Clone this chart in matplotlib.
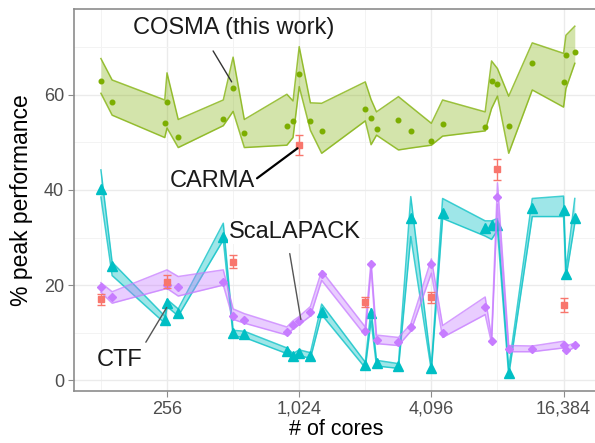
import matplotlib
matplotlib.use("Agg")
import matplotlib.pyplot as plt
from matplotlib.ticker import FixedLocator, NullFormatter

plt.rcParams['font.family'] = ['Liberation Sans', 'DejaVu Sans']

# COSMA: median % of peak with min/max band
cosma_cores = [128, 144, 250, 256, 288, 462, 512, 576, 900, 960, 1024, 1152, 1296,
               2048, 2176, 2304, 2900, 3300, 4096, 4608, 7200, 7700, 8192, 9216,
               11800, 16384, 16800, 18432]
cosma_med = [62.9, 58.5, 54.1, 58.5, 51.2, 55.0, 61.5, 52.0, 53.5, 54.5, 64.3, 54.5, 52.4,
             57.1, 55.2, 52.8, 54.7, 52.4, 50.3, 53.8, 53.2, 62.9, 62.2, 53.4,
             66.7, 62.6, 68.3, 69.0]
cosma_lo = [60.3, 55.7, 51.0, 53.0, 48.9, 53.5, 56.5, 48.9, 49.4, 51.0, 61.7, 52.5, 47.7,
            54.5, 49.5, 51.5, 48.4, 48.8, 49.4, 51.3, 52.4, 57.1, 59.7, 47.7,
            61.0, 57.4, 61.3, 66.6]
cosma_hi = [67.6, 63.1, 58.9, 64.6, 54.8, 58.9, 67.9, 54.8, 60.1, 58.7, 70.1, 58.3, 58.2,
            62.7, 59.0, 56.4, 59.6, 57.5, 54.0, 58.9, 56.4, 67.1, 65.5, 59.7,
            70.9, 68.7, 72.5, 74.4]

# ScaLAPACK
scalapack_cores = [128, 144, 256, 288, 462, 512, 576, 900, 960, 1024, 1152, 1296,
                   2048, 2176, 2304, 2900, 3300, 4096, 4608, 7200, 7700, 8192, 9216,
                   11800, 16384, 16800, 18432]
scalapack_med = [19.7, 17.4, 20.0, 19.5, 20.7, 13.6, 12.7, 10.2, 11.6, 12.5, 14.4, 22.3,
                 10.4, 24.4, 8.5, 8.1, 11.1, 24.4, 9.9, 15.5, 8.3, 38.6, 6.5,
                 6.5, 7.4, 6.4, 7.4]
scalapack_lo = [18.5, 16.2, 19.3, 17.7, 20.0, 12.8, 12.0, 9.5, 10.8, 11.7, 13.5, 21.0,
                9.4, 23.5, 7.7, 7.3, 10.3, 22.5, 9.0, 13.8, 7.8, 37.0, 6.0,
                6.0, 6.8, 5.9, 7.0]
scalapack_hi = [20.5, 18.6, 23.2, 21.8, 23.2, 15.0, 14.0, 11.2, 12.5, 13.4, 15.5, 23.0,
                11.2, 25.0, 9.5, 9.0, 11.8, 25.5, 11.5, 17.5, 9.0, 41.5, 7.3,
                7.2, 8.2, 7.2, 7.8]

# CTF
ctf_cores = [128, 144, 250, 256, 288, 462, 512, 576, 900, 960, 1024, 1152, 1296,
             2048, 2176, 2304, 2900, 3300, 4096, 4608, 7200, 7700, 8192, 9216,
             11800, 16384, 16800, 18432]
ctf_med = [40.2, 24.0, 12.7, 16.3, 14.1, 30.2, 9.9, 9.7, 6.2, 5.0, 5.8, 5.2, 14.4,
           3.2, 14.1, 3.6, 3.0, 34.2, 2.5, 35.2, 31.9, 32.6, 32.6, 1.6,
           36.1, 35.8, 22.3, 34.0]
ctf_lo = [38.5, 22.0, 12.0, 15.5, 13.5, 29.5, 9.3, 9.0, 5.6, 4.5, 5.2, 4.6, 13.8,
          2.6, 12.5, 3.0, 2.5, 30.2, 2.0, 34.0, 30.3, 29.6, 31.5, 1.0,
          34.4, 34.4, 21.5, 33.0]
ctf_hi = [44.2, 24.8, 13.5, 17.0, 15.0, 33.0, 10.5, 10.3, 6.8, 5.6, 6.4, 5.8, 16.0,
          3.8, 15.0, 4.2, 3.5, 38.6, 3.0, 38.2, 33.5, 33.5, 34.0, 2.5,
          38.2, 38.7, 23.2, 38.2]

# CARMA: mean with error bars
carma_cores = [128, 256, 512, 1024, 2048, 4096, 8192, 16384]
carma_mean = [17.0, 20.7, 24.9, 49.4, 16.5, 17.4, 44.3, 15.8]
carma_err = [1.2, 1.4, 1.4, 2.1, 1.0, 1.1, 2.2, 1.4]

GREEN, CYAN, PURPLE, RED = '#7CAE00', '#00BFC4', '#C77CFF', '#F8766D'

fig = plt.figure(figsize=(5.95, 4.43), dpi=100)
ax = fig.add_axes([0.124, 0.1174, 0.882, 0.8632])


def band(x, lo, hi, med, color, marker, ms, z, alpha=0.33):
    ax.fill_between(x, lo, hi, color=color, alpha=alpha, lw=0, zorder=z)
    ax.plot(x, lo, color=color, alpha=0.75, lw=1.1, zorder=z + 0.1)
    ax.plot(x, hi, color=color, alpha=0.75, lw=1.1, zorder=z + 0.1)
    ax.plot(x, med, ls='none', marker=marker, ms=ms, color=color, zorder=z + 0.2)


band(cosma_cores, cosma_lo, cosma_hi, cosma_med, GREEN, 'o', 3.3, 2)
band(ctf_cores, ctf_lo, ctf_hi, ctf_med, CYAN, '^', 7, 3, alpha=0.38)
band(scalapack_cores, scalapack_lo, scalapack_hi, scalapack_med, PURPLE, 'D', 4.2, 4,
     alpha=0.38)

ax.errorbar(carma_cores, carma_mean, yerr=carma_err, fmt='s', ms=5, color=RED,
            ecolor=RED, elinewidth=1, capsize=3, zorder=6)

# labels with leader segments
ax.annotate('', xy=(512, 62.2), xytext=(409, 69.7),
            arrowprops=dict(arrowstyle='-', color='#333333', lw=1), zorder=7)
ax.text(517, 74.0, 'COSMA (this work)', ha='center', va='center', fontsize=17,
        color='#1a1a1a', zorder=8)

ax.annotate('', xy=(1030, 49.1), xytext=(643, 42.1),
            arrowprops=dict(arrowstyle='-', color='black', lw=1.6), zorder=7)
ax.text(410, 41.9, 'CARMA', ha='center', va='center', fontsize=17,
        color='#1a1a1a', zorder=8)

ax.annotate('', xy=(1047, 12.2), xytext=(923, 27.2),
            arrowprops=dict(arrowstyle='-', color='#555555', lw=1), zorder=7)
ax.text(980, 31.2, 'ScaLAPACK', ha='center', va='center', fontsize=17,
        color='#1a1a1a', zorder=8,
        bbox=dict(facecolor='white', edgecolor='none', pad=1))

ax.annotate('', xy=(259, 15.8), xytext=(202, 7.5),
            arrowprops=dict(arrowstyle='-', color='#555555', lw=1), zorder=7)
ax.text(156, 4.3, 'CTF', ha='center', va='center', fontsize=17,
        color='#1a1a1a', zorder=8)

ax.set_xscale('log', base=2)
ax.set_xlim(96.3, 23650)
ax.set_ylim(-2.25, 78.1)

ax.xaxis.set_major_locator(FixedLocator([256, 1024, 4096, 16384]))
ax.set_xticklabels(['256', '1,024', '4,096', '16,384'])
ax.xaxis.set_minor_locator(FixedLocator([128, 512, 2048, 8192]))
ax.xaxis.set_minor_formatter(NullFormatter())
ax.set_yticks([0, 20, 40, 60])
ax.yaxis.set_minor_locator(FixedLocator([10, 30, 50, 70]))

ax.grid(which='major', color='#ebebeb', lw=1.0, zorder=0)
ax.grid(which='minor', color='#f3f3f3', lw=0.7, zorder=0)
ax.set_axisbelow(True)

for s in ax.spines.values():
    s.set_color('#8c8c8c')
    s.set_linewidth(1.2)

ax.tick_params(which='major', length=4, color='#8c8c8c', labelsize=13,
               labelcolor='#4d4d4d', pad=3)
ax.tick_params(which='minor', length=0)

ax.set_xlabel('# of cores', fontsize=15.5, color='black', labelpad=1)
ax.set_ylabel('% peak performance', fontsize=16.5, color='black', labelpad=8)

fig.savefig('out.png', dpi=100)
